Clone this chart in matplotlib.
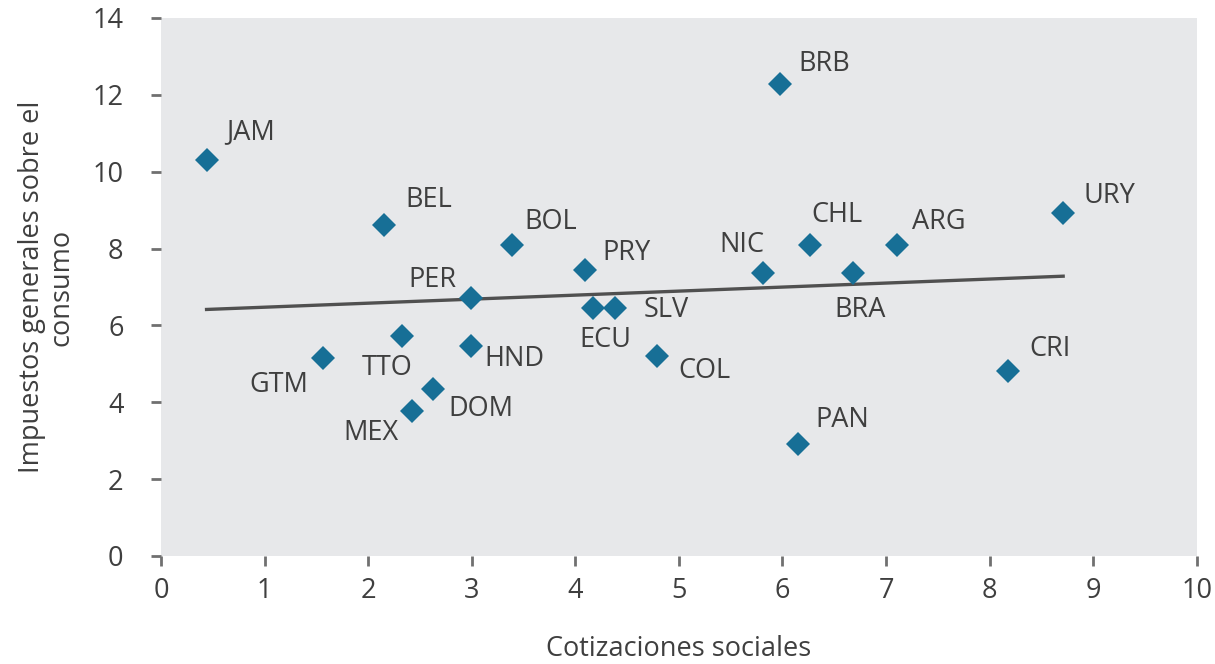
import numpy as np
import matplotlib
matplotlib.use("Agg")
import matplotlib.pyplot as plt

# data
paises = ["JAM", "BEL", "BOL", "PRY", "PER", "ECU", "SLV", "TTO", "HND", "GTM", "DOM",
          "MEX", "COL", "BRB", "NIC", "CHL", "BRA", "ARG", "PAN", "CRI", "URY"]
cotizaciones = [0.44, 2.15, 3.39, 4.09, 2.99, 4.17, 4.38, 2.33, 2.99, 1.56, 2.63,
                2.42, 4.79, 5.98, 5.81, 6.27, 6.68, 7.11, 6.15, 8.18, 8.71]
impuestos = [10.3, 8.6, 8.08, 7.43, 6.7, 6.44, 6.44, 5.73, 5.47, 5.16, 4.35,
             3.78, 5.21, 12.28, 7.35, 8.08, 7.35, 8.08, 2.92, 4.82, 8.92]

xticks = list(range(0, 11))
yticks = list(range(0, 15, 2))

# label placement (pixels offset, alignment)
offsets = {
    "JAM": (20, 28, "left"), "BEL": (22, 25, "left"), "BOL": (12, 23, "left"),
    "PRY": (18, 17, "left"), "PER": (-14, 18, "right"), "ECU": (12, -32, "center"),
    "SLV": (29, -2, "left"), "TTO": (-15, -32, "center"), "HND": (14, -13, "left"),
    "GTM": (-14, -27, "right"), "DOM": (15, -20, "left"), "MEX": (-13, -22, "right"),
    "COL": (21, -15, "left"), "BRB": (18, 20, "left"), "NIC": (-21, 28, "center"),
    "CHL": (1, 30, "left"), "BRA": (7, -37, "center"), "ARG": (15, 23, "left"),
    "PAN": (17, 24, "left"), "CRI": (21, 22, "left"), "URY": (20, 17, "left"),
}

plt.rcParams['font.family'] = ['Open Sans', 'DejaVu Sans']
txt = '#3f3f3f'
fs = 19.5

fig = plt.figure(figsize=(12.15, 6.64), dpi=100)
ax = fig.add_axes([0.1325, 0.1627, 0.8525, 0.8103])
ax.set_facecolor('#e7e8ea')
for s in ax.spines.values():
    s.set_visible(False)

# trend line
x = np.array(cotizaciones)
y = np.array(impuestos)
b, a = np.polyfit(x, y, 1)
xl = np.array([x.min(), x.max()])
ax.plot(xl, a + b * xl, color='#505050', lw=2.4, zorder=2)

ax.plot(x, y, 'D', ms=12.5, color='#176f96', mew=0, zorder=3)

for p, xi, yi in zip(paises, cotizaciones, impuestos):
    dx, dy, ha = offsets[p]
    ax.annotate(p, (xi, yi), xytext=(dx, dy), textcoords='offset pixels',
                ha=ha, va='center', fontsize=fs, color=txt)

ax.set_xlim(0, 10)
ax.set_ylim(0, 14)
ax.set_xticks(xticks)
ax.set_yticks(yticks)
ax.tick_params(length=7, width=2, color='#707070', labelsize=fs, labelcolor=txt)
ax.tick_params(axis='y', pad=20)
ax.tick_params(axis='x', pad=8)

ax.set_xlabel('Cotizaciones sociales', fontsize=fs, color=txt, labelpad=22)
ax.set_ylabel('Impuestos generales sobre el\nconsumo', fontsize=fs, color=txt,
              labelpad=12, linespacing=1.1)

fig.savefig('out.png', dpi=100)
